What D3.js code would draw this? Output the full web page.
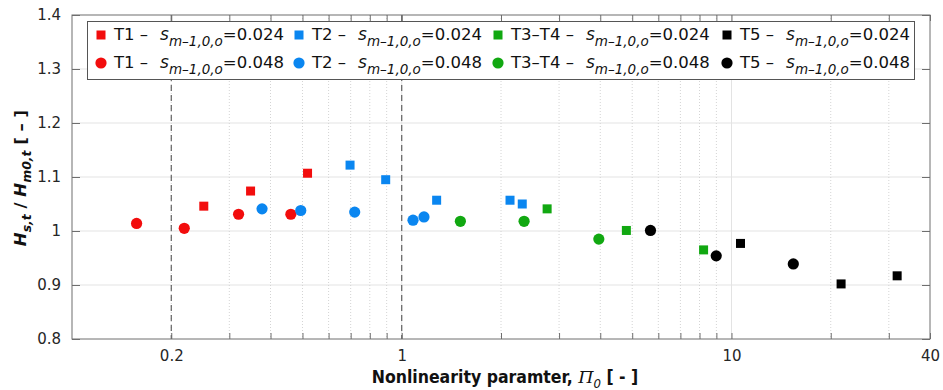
<!DOCTYPE html>
<html>
<head>
<meta charset="utf-8">
<script src="https://cdn.jsdelivr.net/npm/d3@7"></script>
<style>
  html, body { margin: 0; padding: 0; background: #fff; }
  svg { display: block; font-family: "DejaVu Sans", sans-serif; }
</style>
</head>
<body>
<svg id="chart" width="943" height="390"></svg>
<script>
// ---------- data ----------
const seriesNames = ["T1", "T2", "T3–T4", "T5"];
const steepness = ["0.024", "0.048"];
const colors = ["#f20d0d", "#0a86f0", "#11a811", "#000000"];

// [Pi_0, Hs/Hm0] pairs
const t1_024 = [[0.251, 1.046], [0.348, 1.074], [0.518, 1.107]];
const t1_048 = [[0.157, 1.014], [0.219, 1.005], [0.320, 1.031], [0.461, 1.031]];
const t2_024 = [[0.697, 1.122], [0.894, 1.095], [1.276, 1.057], [2.13, 1.057], [2.32, 1.050]];
const t2_048 = [[0.377, 1.041], [0.494, 1.038], [0.720, 1.035], [1.082, 1.020], [1.168, 1.026]];
const t34_024 = [[2.76, 1.041], [4.80, 1.001], [8.23, 0.965]];
const t34_048 = [[1.506, 1.018], [2.35, 1.018], [3.96, 0.985]];
const t5_024 = [[10.65, 0.977], [21.5, 0.902], [31.8, 0.917]];
const t5_048 = [[5.68, 1.001], [8.99, 0.954], [15.4, 0.939]];

const xTickValues = [0.2, 1, 10, 40];
const xTickLabels = ["0.2", "1", "10", "40"];
const yTickValues = [0.8, 0.9, 1.0, 1.1, 1.2, 1.3, 1.4];
const yTickLabels = ["0.8", "0.9", "1", "1.1", "1.2", "1.3", "1.4"];
const xMinor = [0.2, 0.3, 0.4, 0.5, 0.6, 0.7, 0.8, 0.9, 2, 3, 4, 5, 6, 7, 8, 9, 20, 30];
const xMajorGrid = [1, 10];
const dashedRefs = [0.2, 1];
const xDomain = [0.1, 40];
const yDomain = [0.8, 1.4];

const series = [
  { name: seriesNames[0], s: steepness[0], shape: "square", color: colors[0], data: t1_024 },
  { name: seriesNames[1], s: steepness[0], shape: "square", color: colors[1], data: t2_024 },
  { name: seriesNames[2], s: steepness[0], shape: "square", color: colors[2], data: t34_024 },
  { name: seriesNames[3], s: steepness[0], shape: "square", color: colors[3], data: t5_024 },
  { name: seriesNames[0], s: steepness[1], shape: "circle", color: colors[0], data: t1_048 },
  { name: seriesNames[1], s: steepness[1], shape: "circle", color: colors[1], data: t2_048 },
  { name: seriesNames[2], s: steepness[1], shape: "circle", color: colors[2], data: t34_048 },
  { name: seriesNames[3], s: steepness[1], shape: "circle", color: colors[3], data: t5_048 }
];

// ---------- layout ----------
const m = { left: 72, right: 13, top: 15, bottom: 51 };
const W = 943, H = 390;
const pw = W - m.left - m.right, ph = H - m.top - m.bottom;

const svg = d3.select("#chart");
const g = svg.append("g").attr("transform", `translate(${m.left},${m.top})`);

const x = d3.scaleLog().domain(xDomain).range([0, pw]);
const y = d3.scaleLinear().domain(yDomain).range([ph, 0]);

// grid
g.append("g").selectAll("line").data(yTickValues.slice(1, -1)).join("line")
  .attr("x1", 0).attr("x2", pw).attr("y1", d => y(d)).attr("y2", d => y(d))
  .attr("stroke", "#e3e3e3").attr("stroke-width", 1);
g.append("g").selectAll("line").data(xMinor).join("line")
  .attr("x1", d => x(d)).attr("x2", d => x(d)).attr("y1", 0).attr("y2", ph)
  .attr("stroke", "#d4d4d4").attr("stroke-width", 1).attr("stroke-dasharray", "1,2");
g.append("g").selectAll("line").data(xMajorGrid).join("line")
  .attr("x1", d => x(d)).attr("x2", d => x(d)).attr("y1", 0).attr("y2", ph)
  .attr("stroke", "#e3e3e3").attr("stroke-width", 1);

// dashed reference lines
g.append("g").selectAll("line").data(dashedRefs).join("line")
  .attr("x1", d => x(d)).attr("x2", d => x(d)).attr("y1", 0).attr("y2", ph)
  .attr("stroke", "#555").attr("stroke-width", 1.1).attr("stroke-dasharray", "6,4");

// axes (box with inward ticks)
const axisColor = "#6e6e6e";
function styleAxis(sel) {
  sel.select(".domain").remove();
  sel.selectAll(".tick line").attr("stroke", axisColor);
  sel.selectAll(".tick text").attr("fill", "#262626").attr("font-size", 15)
    .attr("font-family", "DejaVu Sans, sans-serif");
}
const allXTicks = Array.from(new Set(xMinor.concat(xTickValues, xMajorGrid))).sort((a, b) => a - b);
const xLabel = d => { const i = xTickValues.indexOf(d); return i >= 0 ? xTickLabels[i] : ""; };

g.append("g").attr("transform", `translate(0,${ph})`)
  .call(d3.axisBottom(x).tickValues(allXTicks).tickFormat(xLabel).tickSizeInner(-6).tickSizeOuter(0).tickPadding(11))
  .call(styleAxis);
g.append("g")
  .call(d3.axisTop(x).tickValues(allXTicks).tickFormat("").tickSizeInner(-6).tickSizeOuter(0))
  .call(styleAxis);
g.append("g")
  .call(d3.axisLeft(y).tickValues(yTickValues).tickFormat((d, i) => yTickLabels[i]).tickSizeInner(-8).tickSizeOuter(0).tickPadding(11))
  .call(styleAxis);
g.append("g").attr("transform", `translate(${pw},0)`)
  .call(d3.axisRight(y).tickValues(yTickValues).tickFormat("").tickSizeInner(-8).tickSizeOuter(0))
  .call(styleAxis);
g.append("rect").attr("x", 0).attr("y", 0).attr("width", pw).attr("height", ph)
  .attr("fill", "none").attr("stroke", axisColor).attr("stroke-width", 1);

// markers
const sq = 9, r = 5.6;
series.forEach(s => {
  const grp = g.append("g");
  if (s.shape === "square") {
    grp.selectAll("rect").data(s.data).join("rect")
      .attr("x", d => x(d[0]) - sq / 2).attr("y", d => y(d[1]) - sq / 2)
      .attr("width", sq).attr("height", sq).attr("fill", s.color);
  } else {
    grp.selectAll("circle").data(s.data).join("circle")
      .attr("cx", d => x(d[0])).attr("cy", d => y(d[1])).attr("r", r).attr("fill", s.color);
  }
});

// legend
const leg = svg.append("g");
leg.append("rect").attr("x", 87.5).attr("y", 21.5).attr("width", 827).attr("height", 58)
  .attr("fill", "#fff").attr("stroke", "#555").attr("stroke-width", 1);
const colX = [101, 299, 498, 727];
const rowY = [35, 63];
series.forEach((s, i) => {
  const col = i % 4, row = Math.floor(i / 4);
  const cx = colX[col], cy = rowY[row];
  if (s.shape === "square") {
    leg.append("rect").attr("x", cx - 4.5).attr("y", cy - 4.5).attr("width", 9).attr("height", 9).attr("fill", s.color);
  } else {
    leg.append("circle").attr("cx", cx).attr("cy", cy).attr("r", 5.6).attr("fill", s.color);
  }
  const t = leg.append("text").attr("x", cx + 13).attr("y", cy + 5)
    .attr("font-size", 16.5).attr("fill", "#111");
  t.append("tspan").text(s.name + " –");
  t.append("tspan").attr("dx", 12).attr("font-style", "italic").attr("font-size", 17).text("s");
  t.append("tspan").attr("dy", 6).attr("font-style", "italic").attr("font-size", 13.5).text("m–1,0,o");
  t.append("tspan").attr("dy", -6).text("=" + s.s);
});

// axis titles
const xt = svg.append("text").attr("x", m.left + pw / 2 + 4).attr("y", 383)
  .attr("text-anchor", "middle").attr("font-size", 17.5).attr("font-weight", "bold")
  .attr("font-family", "DejaVu Sans Condensed, DejaVu Sans, sans-serif").attr("fill", "#111");
xt.append("tspan").text("Nonlinearity paramter, ");
xt.append("tspan").attr("font-style", "italic").attr("font-weight", "normal").attr("font-family", "DejaVu Serif, serif").text("Π");
xt.append("tspan").attr("font-style", "italic").attr("font-weight", "normal").attr("font-size", 13).attr("dy", 5).text("0");
xt.append("tspan").attr("dy", -5).text(" [ - ]");

const yt = svg.append("text").attr("transform", `translate(26,${m.top + 163}) rotate(-90)`)
  .attr("text-anchor", "middle").attr("font-size", 16.5).attr("font-weight", "bold").attr("fill", "#111");
yt.append("tspan").attr("font-style", "italic").text("H");
yt.append("tspan").attr("font-style", "italic").attr("font-size", 12.5).attr("dy", 5).text("s,t");
yt.append("tspan").attr("dy", -5).text(" / ");
yt.append("tspan").attr("font-style", "italic").text("H");
yt.append("tspan").attr("font-style", "italic").attr("font-size", 12.5).attr("dy", 5).text("m0,t");
yt.append("tspan").attr("dy", -5).text(" [ – ]");
</script>
</body>
</html>
